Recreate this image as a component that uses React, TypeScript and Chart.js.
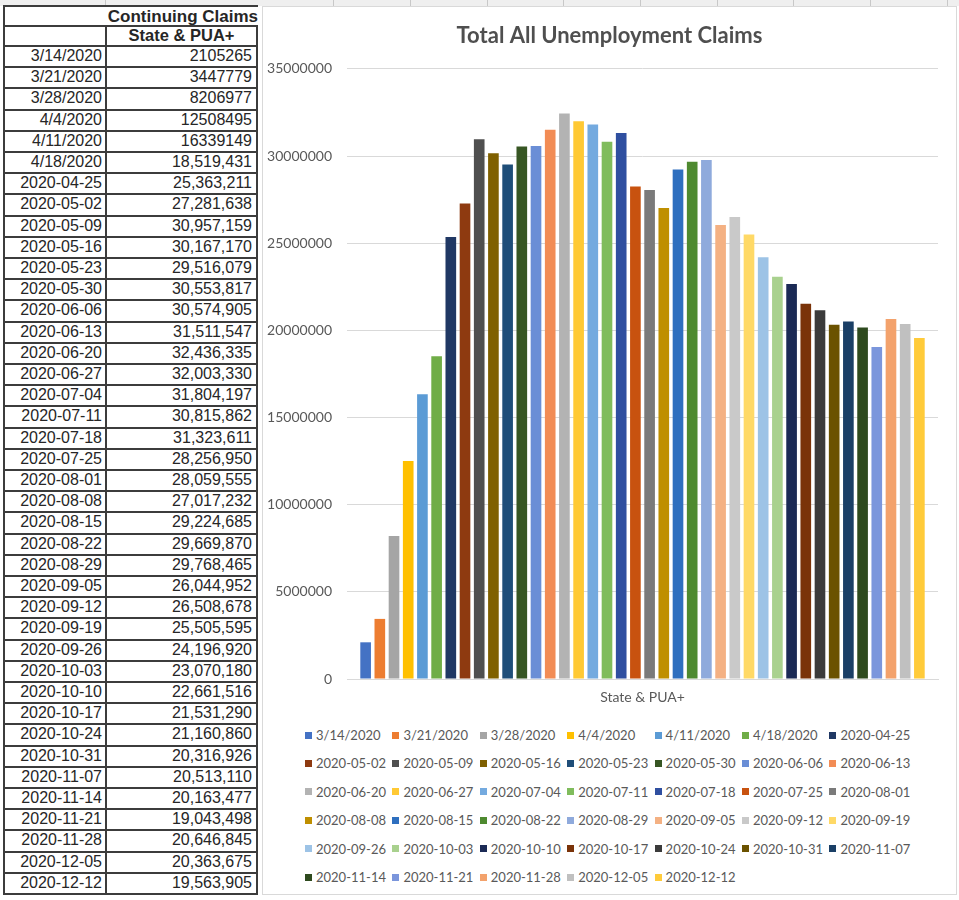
import React, { useEffect, useRef } from 'react';
import { Chart, registerables } from 'chart.js';

Chart.register(...registerables);

const chartTitle = 'Total All Unemployment Claims';
const tableHeaderTop = 'Continuing Claims';
const tableHeaderSub = 'State & PUA+';
const categoryLabels = ['State & PUA+'];

const weekLabels = [
  '3/14/2020', '3/21/2020', '3/28/2020', '4/4/2020', '4/11/2020', '4/18/2020',
  '2020-04-25', '2020-05-02', '2020-05-09', '2020-05-16', '2020-05-23', '2020-05-30',
  '2020-06-06', '2020-06-13', '2020-06-20', '2020-06-27', '2020-07-04', '2020-07-11',
  '2020-07-18', '2020-07-25', '2020-08-01', '2020-08-08', '2020-08-15', '2020-08-22',
  '2020-08-29', '2020-09-05', '2020-09-12', '2020-09-19', '2020-09-26', '2020-10-03',
  '2020-10-10', '2020-10-17', '2020-10-24', '2020-10-31', '2020-11-07', '2020-11-14',
  '2020-11-21', '2020-11-28', '2020-12-05', '2020-12-12',
];

const claims = [
  2105265, 3447779, 8206977, 12508495, 16339149, 18519431,
  25363211, 27281638, 30957159, 30167170, 29516079, 30553817,
  30574905, 31511547, 32436335, 32003330, 31804197, 30815862,
  31323611, 28256950, 28059555, 27017232, 29224685, 29669870,
  29768465, 26044952, 26508678, 25505595, 24196920, 23070180,
  22661516, 21531290, 21160860, 20316926, 20513110, 20163477,
  19043498, 20646845, 20363675, 19563905,
];

// number of leading rows shown without thousands separators in the sheet
const plainRows = 5;

const seriesColors = [
  '#4472C4', '#ED7D31', '#A5A5A5', '#FFC000', '#5B9BD5', '#70AD47',
  '#203864', '#8E3A10', '#4F4F4F', '#7F6000', '#1F4E79', '#375623',
  '#6A8ED6', '#F28C55', '#B3B3B3', '#FFC934', '#74AADF', '#80BC5C',
  '#2F4FA0', '#C8520F', '#7A7A7A', '#BF8F00', '#2E6FBF', '#4E8A30',
  '#8FAADC', '#F4B183', '#C9C9C9', '#FFD966', '#9DC3E6', '#A9D18E',
  '#1B2A55', '#7A3309', '#3B3B3B', '#6B5200', '#1A3F66', '#2E4A1E',
  '#7B96DC', '#F3A26C', '#C0C0C0', '#FFCB3A',
];

const yTickValues = [0, 5000000, 10000000, 15000000, 20000000, 25000000, 30000000, 35000000];

const fmt = (v: number, i: number) => (i < plainRows ? String(v) : v.toLocaleString('en-US'));

const TABLE_LEFT = 3;
const COL1_W = 102;
const COL2_W = 153;
const ROW_H = 21.2;
const DATA_TOP = 46;
const LINE = '2px solid #3c3c3c';

function ClaimsTable() {
  const cellFont: React.CSSProperties = {
    fontFamily: '"Liberation Sans", Arial, sans-serif',
    fontSize: 16,
    color: '#262626',
  };
  return (
    <div>
      <div
        style={{
          position: 'absolute', left: TABLE_LEFT, top: 5, width: COL1_W + COL2_W, height: 22,
          borderTop: LINE, borderLeft: LINE, borderBottom: LINE, boxSizing: 'border-box',
          ...cellFont, fontSize: 17, fontWeight: 'bold', textAlign: 'right', lineHeight: '19px', paddingRight: 0,
        }}
      >
        {tableHeaderTop}
      </div>
      <div
        style={{
          position: 'absolute', left: TABLE_LEFT, top: 26, width: COL1_W + COL2_W, height: 21,
          borderLeft: LINE, borderRight: LINE, borderBottom: LINE, boxSizing: 'border-box', display: 'flex',
          ...cellFont, fontSize: 16.5, fontWeight: 'bold', lineHeight: '19px',
        }}
      >
        <div style={{ width: COL1_W, borderRight: LINE, boxSizing: 'border-box' }} />
        <div style={{ flex: 1, textAlign: 'center' }}>{tableHeaderSub}</div>
      </div>
      {weekLabels.map((w, i) => (
        <div
          key={w}
          style={{
            position: 'absolute', left: TABLE_LEFT, top: DATA_TOP + i * ROW_H, width: COL1_W + COL2_W,
            height: ROW_H + 1, borderLeft: LINE, borderRight: LINE, borderBottom: LINE,
            boxSizing: 'border-box', display: 'flex', ...cellFont, lineHeight: `${ROW_H - 1}px`,
          }}
        >
          <div style={{ width: COL1_W, borderRight: LINE, boxSizing: 'border-box', textAlign: 'right', paddingRight: 3 }}>{w}</div>
          <div style={{ flex: 1, textAlign: 'right', paddingRight: 4 }}>{fmt(claims[i], i)}</div>
        </div>
      ))}
    </div>
  );
}

function ClaimsChart() {
  const ref = useRef<HTMLCanvasElement>(null);
  useEffect(() => {
    const font = { family: 'Lato, "Open Sans", sans-serif', size: 14 };
    const chart = new Chart(ref.current as HTMLCanvasElement, {
      type: 'bar',
      data: {
        labels: categoryLabels,
        datasets: weekLabels.map((w, i) => ({
          label: w,
          data: [claims[i]],
          backgroundColor: seriesColors[i],
          borderWidth: 0,
          categoryPercentage: 0.961,
          barPercentage: 0.75,
        })),
      },
      options: {
        responsive: false,
        animation: false,
        layout: { padding: 0 },
        plugins: {
          legend: { display: false },
          tooltip: { enabled: false },
          title: {
            display: true,
            text: chartTitle,
            color: '#4f4f4f',
            font: { family: 'Lato, "Open Sans", sans-serif', size: 22, weight: 'bold' },
            padding: { top: 16, bottom: 19.5 },
          },
        },
        scales: {
          x: {
            grid: { display: false, drawTicks: false },
            border: { display: true, color: '#d9d9d9', width: 1 },
            ticks: { color: '#595959', font, padding: 10 },
            afterFit: (s: any) => { s.height = 40; },
          },
          y: {
            min: 0,
            max: 35000000,
            afterBuildTicks: (s: any) => { s.ticks = yTickValues.map((v) => ({ value: v })); },
            grid: { color: '#d9d9d9', drawTicks: false },
            border: { display: false },
            ticks: { color: '#595959', font, padding: 15, callback: (v: any) => String(v) },
            afterFit: (s: any) => { s.width = 84; },
          },
          yRightSpace: {
            type: 'linear',
            position: 'right',
            display: true,
            grid: { display: false, drawTicks: false },
            border: { display: false },
            ticks: { display: false },
            afterFit: (s: any) => { s.width = 18; },
          },
        },
      } as any,
    });
    return () => chart.destroy();
  }, []);
  return <canvas ref={ref} width={693} height={712} style={{ position: 'absolute', left: 0, top: 0 }} />;
}

function Legend() {
  return (
    <div>
      {weekLabels.map((w, i) => {
        const row = Math.floor(i / 7);
        const col = i % 7;
        return (
          <div
            key={w}
            style={{
              position: 'absolute', left: 42 + col * 87.4, top: 718 + row * 28.4, height: 20,
              display: 'flex', alignItems: 'center', whiteSpace: 'nowrap',
              fontFamily: 'Lato, "Open Sans", sans-serif', fontSize: 13, color: '#595959',
            }}
          >
            <span style={{ display: 'inline-block', width: 7, height: 7, background: seriesColors[i], marginRight: 4 }} />
            <span>{w}</span>
          </div>
        );
      })}
    </div>
  );
}

export default function App() {
  const gridLinesX = [105, 333, 410, 487, 563, 640, 717, 793, 870, 947];
  return (
    <div style={{ position: 'absolute', left: 0, top: 0, width: 959, height: 900, background: '#ffffff', overflow: 'hidden' }}>
      <div style={{ position: 'absolute', left: 0, top: 0, width: 959, height: 6, background: '#efefef' }}>
        {gridLinesX.map((x) => (
          <div key={x} style={{ position: 'absolute', left: x, top: 0, width: 1, height: 6, background: '#c8c8c8' }} />
        ))}
      </div>
      <ClaimsTable />
      <div
        style={{
          position: 'absolute', left: 262, top: 6, width: 693, height: 887,
          border: '1px solid #d9d9d9', background: '#ffffff',
        }}
      >
        <ClaimsChart />
        <Legend />
      </div>
    </div>
  );
}
